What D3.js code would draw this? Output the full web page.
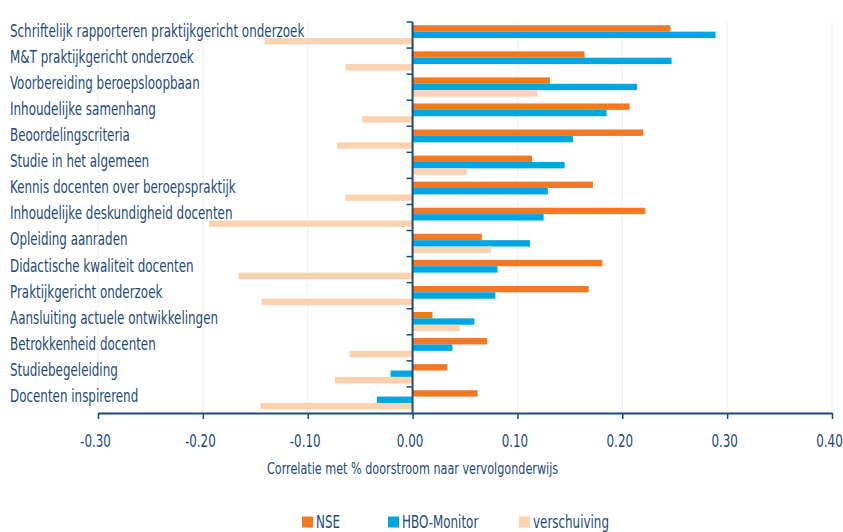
<!DOCTYPE html>
<html lang='nl'>
  <head>
    <meta charset='utf-8'>
    <title>Correlatie met doorstroom</title>
    <style>
      body { margin: 0; background: #fff; }
      text { font-family: "Liberation Sans Narrow", "DejaVu Sans Condensed", sans-serif; fill: #1d4a7c; }
    </style>
  </head>
  <body>
    <div id="container"></div>
    <script src='https://cdnjs.cloudflare.com/ajax/libs/d3/7.8.5/d3.min.js'></script>
    <script>

      var categories = [
        "Schriftelijk rapporteren praktijkgericht onderzoek",
        "M&T praktijkgericht onderzoek",
        "Voorbereiding beroepsloopbaan",
        "Inhoudelijke samenhang",
        "Beoordelingscriteria",
        "Studie in het algemeen",
        "Kennis docenten over beroepspraktijk",
        "Inhoudelijke deskundigheid docenten",
        "Opleiding aanraden",
        "Didactische kwaliteit docenten",
        "Praktijkgericht onderzoek",
        "Aansluiting actuele ontwikkelingen",
        "Betrokkenheid docenten",
        "Studiebegeleiding",
        "Docenten inspirerend"
      ];

      var nse =          [0.246, 0.164, 0.131, 0.207, 0.220, 0.114, 0.172, 0.222, 0.066, 0.181, 0.168, 0.019, 0.071, 0.033, 0.062];
      var hboMonitor =   [0.289, 0.247, 0.214, 0.185, 0.153, 0.145, 0.129, 0.125, 0.112, 0.081, 0.079, 0.059, 0.038, -0.021, -0.034];
      var verschuiving = [-0.141, -0.064, 0.119, -0.048, -0.072, 0.052, -0.064, -0.194, 0.075, -0.166, -0.144, 0.045, -0.060, -0.074, -0.145];

      var seriesNames = ["NSE", "HBO-Monitor", "verschuiving"];
      var seriesColors = ["#f47721", "#00a6e2", "#fcd2b0"];
      var xTicks = [-0.3, -0.2, -0.1, 0, 0.1, 0.2, 0.3, 0.4];

      var w = 843, h = 532;
      var plotLeft = 98, plotRight = 832, plotTop = 22, plotBottom = 413;
      var axisColor = "#1d4a7c";
      var squeeze = 0.78; // the original font is a condensed one

      function place(px, py) {
        return "translate(" + px + "," + py + ") scale(" + squeeze + ",1)";
      }

      var svg = d3.select("#container").append("svg")
        .attr("width", w)
        .attr("height", h);

      var x = d3.scaleLinear()
        .domain([-0.3, 0.4])
        .range([plotLeft, plotRight]);

      var y = d3.scaleBand()
        .domain(categories)
        .range([plotTop, plotBottom]);

      var series = [nse, hboMonitor, verschuiving];
      var barH = y.bandwidth() * 0.245;
      var barOff = y.bandwidth() * 0.125;

      // faint gridlines
      svg.append("g")
        .selectAll("line")
        .data(xTicks.filter(function(d) { return d !== 0; }))
        .join("line")
        .attr("x1", function(d) { return x(d); })
        .attr("x2", function(d) { return x(d); })
        .attr("y1", plotTop)
        .attr("y2", plotBottom)
        .attr("stroke", "#eef0f6")
        .attr("stroke-width", 1);

      // bars
      series.forEach(function(vals, s) {
        svg.append("g")
          .selectAll("rect")
          .data(vals)
          .join("rect")
          .attr("x", function(d) { return x(Math.min(0, d)); })
          .attr("y", function(d, i) { return y(categories[i]) + barOff + s * barH; })
          .attr("width", function(d) { return Math.abs(x(d) - x(0)); })
          .attr("height", barH)
          .attr("fill", seriesColors[s]);
      });

      // x axis
      var xAxis = d3.axisBottom(x)
        .tickValues(xTicks)
        .tickSize(6)
        .tickSizeOuter(0);

      var gx = svg.append("g")
        .attr("transform", "translate(0," + plotBottom + ")")
        .call(xAxis);
      gx.select(".domain").attr("stroke", axisColor).attr("stroke-width", 2);
      gx.selectAll(".tick line").attr("stroke", axisColor).attr("stroke-width", 1.5);
      gx.selectAll(".tick text")
        .attr("x", 0)
        .attr("y", 0)
        .attr("dy", "0.35em")
        .attr("transform", place(-3, 28))
        .attr("fill", axisColor)
        .style("font-size", "17px")
        .style("font-family", "'Liberation Sans Narrow', 'DejaVu Sans Condensed', sans-serif")
        .text(function(d) { return d3.format(".2f")(d).replace("\u2212", "-"); });

      // zero axis with ticks between categories
      svg.append("line")
        .attr("x1", x(0)).attr("x2", x(0))
        .attr("y1", plotTop).attr("y2", plotBottom)
        .attr("stroke", axisColor)
        .attr("stroke-width", 2);
      svg.append("g")
        .selectAll("line")
        .data(categories)
        .join("line")
        .attr("x1", x(0) - 6)
        .attr("x2", x(0))
        .attr("y1", function(d) { return y(d); })
        .attr("y2", function(d) { return y(d); })
        .attr("stroke", axisColor)
        .attr("stroke-width", 1.5);

      // category labels
      svg.append("g")
        .selectAll("text")
        .data(categories)
        .join("text")
        .attr("transform", function(d) { return place(10, y(d) + 9); })
        .attr("dy", "0.35em")
        .style("font-size", "17px")
        .text(function(d) { return d; });

      // axis title
      svg.append("text")
        .attr("transform", place(x(0), 468))
        .attr("dy", "0.35em")
        .attr("text-anchor", "middle")
        .style("font-size", "16px")
        .text("Correlatie met % doorstroom naar  vervolgonderwijs");

      // legend
      var legendX = [302, 388, 519];
      var lg = svg.append("g")
        .selectAll("g")
        .data(seriesNames)
        .join("g")
        .attr("transform", function(d, i) { return "translate(" + legendX[i] + ",522)"; });
      lg.append("rect")
        .attr("x", 0).attr("y", -5.5)
        .attr("width", 11).attr("height", 11)
        .attr("fill", function(d, i) { return seriesColors[i]; });
      lg.append("text")
        .attr("transform", place(14, 0))
        .attr("dy", "0.35em")
        .style("font-size", "17px")
        .text(function(d) { return d; });

    </script>
  </body>
</html>
